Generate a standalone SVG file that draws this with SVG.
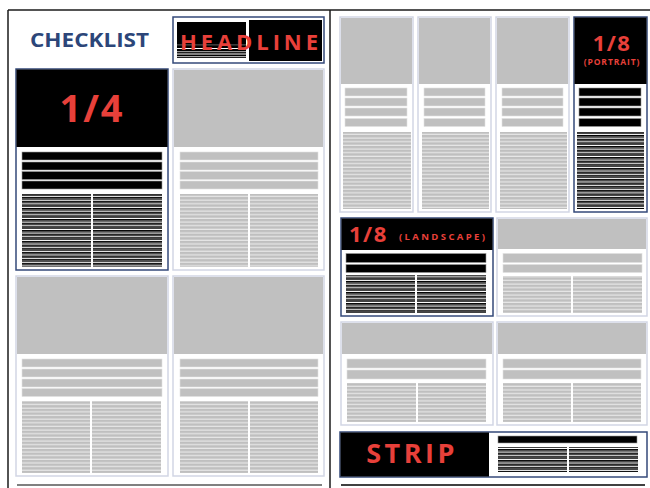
<svg xmlns="http://www.w3.org/2000/svg" width="650" height="488" viewBox="0 0 650 488">
<defs>
<pattern id="gl" patternUnits="userSpaceOnUse" x="0" y="0" width="10" height="3.65">
<rect width="10" height="3.65" fill="#e6e6e6"/>
<rect width="10" height="2.4" fill="#bfbfbf"/>
</pattern>
<pattern id="bl" patternUnits="userSpaceOnUse" x="0" y="0" width="10" height="3.65">
<rect width="10" height="3.65" fill="#ffffff"/>
<rect width="10" height="2.5" fill="#000000"/>
<rect y="0.9" width="10" height="0.7" fill="#6a6a6a"/>
</pattern>
<style>
.frame{stroke:#1a1a1a;stroke-width:1.5;fill:none}
.nav{fill:#fff;stroke:#34497a;stroke-width:1.5}
.lt{fill:#fff;stroke:#d2d6e5;stroke-width:1.5}
.img{fill:#c0c0c0}
.blk{fill:#000}
.gbar{fill:#c0c0c0;stroke:#e2e2e2;stroke-width:0.6}
.bbar{fill:#000;stroke:#9a9a9a;stroke-width:0.6}
.gcol{fill:url(#gl)}
.bcol{fill:url(#bl)}
.red{fill:#e8403a;font-family:"Open Sans","Liberation Sans",Arial,sans-serif;font-weight:700;font-style:normal}
.ttl{fill:#2c4679;font-family:"Open Sans","Liberation Sans",Arial,sans-serif;font-weight:700;font-style:normal}
</style>
</defs>

<g id="frame">
<line class="frame" x1="8" y1="10" x2="650" y2="10"/>
<line class="frame" x1="8" y1="10" x2="8" y2="488"/>
<line class="frame" x1="330" y1="10" x2="330" y2="488"/>
<line x1="17" y1="485" x2="322" y2="485" stroke="#808080" stroke-width="2"/>
<line x1="341" y1="485" x2="645" y2="485" stroke="#000" stroke-width="1.5"/>
</g>

<g id="checklist">
<text class="ttl" x="30" y="47" font-size="20" textLength="119" lengthAdjust="spacingAndGlyphs">CHECKLIST</text>
</g>

<g id="headline">
<rect class="nav" x="173" y="17" width="151" height="46" stroke-width="1.2" stroke="#5a6fa3"/>
<rect class="blk" x="176" y="20" width="146" height="41"/>
<rect x="176" y="20" width="73" height="41" fill="#fff"/>
<rect class="blk" x="177" y="22" width="69" height="36"/>
<rect x="177" y="44.5" width="69" height="0.8" fill="#777"/>
<rect x="177" y="48" width="69" height="1" fill="#fff"/>
<rect x="177" y="51" width="69" height="1.2" fill="#999"/>
<rect x="177" y="53.5" width="69" height="1" fill="#fff"/>
<rect x="177" y="56" width="69" height="1.2" fill="#aaa"/>
<text class="red" x="180" y="49.5" font-size="22" textLength="138" lengthAdjust="spacing">HEADLINE</text>
</g>

<g id="quarter">
<rect class="nav" x="16" y="69" width="152" height="201"/>
<rect class="blk" x="16.5" y="69.5" width="151" height="77.5"/>
<text class="red" x="92" y="122" font-size="38" text-anchor="middle" letter-spacing="2">1/4</text>
<rect class="bbar" x="22" y="152" width="140" height="8"/>
<rect class="bbar" x="22" y="162" width="140" height="8"/>
<rect class="bbar" x="22" y="171.5" width="140" height="8"/>
<rect class="bbar" x="22" y="181" width="140" height="8"/>
<rect class="bcol" x="22" y="194" width="69" height="73"/>
<rect class="bcol" x="93" y="194" width="69" height="73"/>
</g>

<g id="card-tr">
<rect class="lt" x="173" y="69" width="151" height="201"/>
<rect class="img" x="174" y="70" width="149" height="77"/>
<rect class="gbar" x="180" y="152" width="138" height="8"/>
<rect class="gbar" x="180" y="162" width="138" height="8"/>
<rect class="gbar" x="180" y="171.5" width="138" height="8"/>
<rect class="gbar" x="180" y="181" width="138" height="8"/>
<rect class="gcol" x="180" y="194" width="68" height="73"/>
<rect class="gcol" x="250" y="194" width="68" height="73"/>
</g>

<g id="card-bl">
<rect class="lt" x="16" y="276" width="152" height="200"/>
<rect class="img" x="17" y="277" width="150" height="77"/>
<rect class="gbar" x="22" y="359" width="140" height="8"/>
<rect class="gbar" x="22" y="369" width="140" height="8"/>
<rect class="gbar" x="22" y="379" width="140" height="8"/>
<rect class="gbar" x="22" y="388.5" width="140" height="8"/>
<rect class="gcol" x="22" y="401" width="68" height="72"/>
<rect class="gcol" x="92" y="401" width="69" height="72"/>
</g>

<g id="card-br">
<rect class="lt" x="173" y="276" width="151" height="200"/>
<rect class="img" x="174" y="277" width="149" height="77"/>
<rect class="gbar" x="180" y="359" width="138" height="8"/>
<rect class="gbar" x="180" y="369" width="138" height="8"/>
<rect class="gbar" x="180" y="379" width="138" height="8"/>
<rect class="gbar" x="180" y="388.5" width="138" height="8"/>
<rect class="gcol" x="180" y="401" width="68" height="72"/>
<rect class="gcol" x="250" y="401" width="68" height="72"/>
</g>

<g id="portrait-1">
<rect class="lt" x="340" y="17" width="73" height="195"/>
<rect class="img" x="341" y="18" width="71" height="66"/>
<rect class="gbar" x="345" y="88" width="62" height="8"/>
<rect class="gbar" x="345" y="98" width="62" height="8"/>
<rect class="gbar" x="345" y="108" width="62" height="8"/>
<rect class="gbar" x="345" y="118.5" width="62" height="8"/>
<rect class="gcol" x="343" y="132" width="68" height="77"/>
</g>

<g id="portrait-2">
<rect class="lt" x="418" y="17" width="73" height="195"/>
<rect class="img" x="419" y="18" width="71" height="66"/>
<rect class="gbar" x="424" y="88" width="61" height="8"/>
<rect class="gbar" x="424" y="98" width="61" height="8"/>
<rect class="gbar" x="424" y="108" width="61" height="8"/>
<rect class="gbar" x="424" y="118.5" width="61" height="8"/>
<rect class="gcol" x="422" y="132" width="67" height="77"/>
</g>

<g id="portrait-3">
<rect class="lt" x="496" y="17" width="73" height="195"/>
<rect class="img" x="497" y="18" width="71" height="66"/>
<rect class="gbar" x="502" y="88" width="61" height="8"/>
<rect class="gbar" x="502" y="98" width="61" height="8"/>
<rect class="gbar" x="502" y="108" width="61" height="8"/>
<rect class="gbar" x="502" y="118.5" width="61" height="8"/>
<rect class="gcol" x="500" y="132" width="67" height="77"/>
</g>

<g id="eighth-portrait">
<rect class="nav" x="574" y="17" width="73" height="195"/>
<rect class="blk" x="574.5" y="17.5" width="72" height="66.5"/>
<text class="red" x="612" y="51" font-size="22" text-anchor="middle" letter-spacing="1.5">1/8</text>
<text class="red" x="612" y="65" font-size="8.5" text-anchor="middle" letter-spacing="0.9">(PORTRAIT)</text>
<rect class="bbar" x="579" y="88" width="62" height="8"/>
<rect class="bbar" x="579" y="98" width="62" height="8"/>
<rect class="bbar" x="579" y="108" width="62" height="8"/>
<rect class="bbar" x="579" y="118.5" width="62" height="8"/>
<rect class="bcol" x="577" y="132" width="67" height="77"/>
</g>

<g id="eighth-landscape">
<rect class="nav" x="341" y="218" width="152" height="98"/>
<rect class="blk" x="341.5" y="218.5" width="151" height="31.5"/>
<text class="red" x="349" y="242" font-size="22" letter-spacing="1.5">1/8</text>
<text class="red" x="399" y="239.5" font-size="9.5" textLength="86" lengthAdjust="spacing">(LANDSCAPE)</text>
<rect class="bbar" x="346" y="253.5" width="140" height="9"/>
<rect class="bbar" x="346" y="264.5" width="140" height="8"/>
<rect class="bcol" x="346" y="275" width="69" height="38"/>
<rect class="bcol" x="417" y="275" width="69" height="38"/>
</g>

<g id="landscape-2">
<rect class="lt" x="497" y="218" width="150" height="98"/>
<rect class="img" x="498" y="219" width="148" height="30"/>
<rect class="gbar" x="503" y="253.5" width="139" height="9"/>
<rect class="gbar" x="503" y="264.5" width="139" height="8"/>
<rect class="gcol" x="503" y="276" width="68" height="37"/>
<rect class="gcol" x="573" y="276" width="69" height="37"/>
</g>

<g id="landscape-3">
<rect class="lt" x="341" y="322" width="152" height="103"/>
<rect class="img" x="342" y="323" width="150" height="31"/>
<rect class="gbar" x="347" y="359" width="139" height="9"/>
<rect class="gbar" x="347" y="370" width="139" height="9"/>
<rect class="gcol" x="347" y="383" width="69" height="39"/>
<rect class="gcol" x="418" y="383" width="68" height="39"/>
</g>

<g id="landscape-4">
<rect class="lt" x="497" y="322" width="150" height="103"/>
<rect class="img" x="498" y="323" width="148" height="31"/>
<rect class="gbar" x="503" y="359" width="138" height="9"/>
<rect class="gbar" x="503" y="370" width="138" height="9"/>
<rect class="gcol" x="503" y="383" width="68" height="39"/>
<rect class="gcol" x="573" y="383" width="68" height="39"/>
</g>

<g id="strip">
<rect class="nav" x="340" y="432" width="307" height="45"/>
<rect class="blk" x="340.5" y="432.5" width="148.5" height="44"/>
<text class="red" x="412" y="463" font-size="27" text-anchor="middle" letter-spacing="3.5">STRIP</text>
<rect class="bbar" x="498" y="436" width="139" height="7"/>
<rect class="bcol" x="498" y="447" width="69" height="25"/>
<rect class="bcol" x="569" y="447" width="69" height="25"/>
</g>

<g id="connectors"/>
</svg>
